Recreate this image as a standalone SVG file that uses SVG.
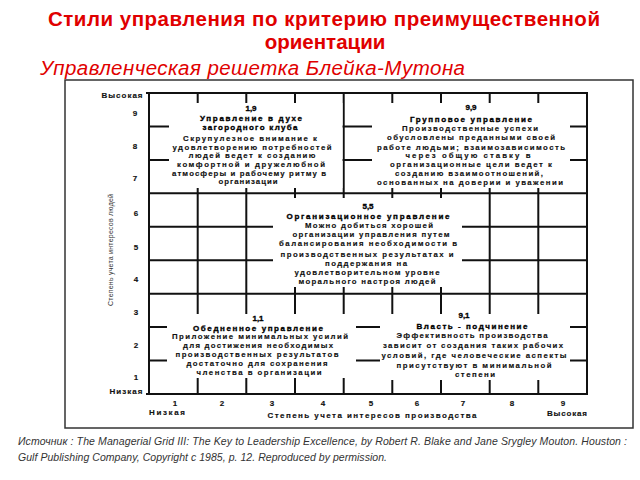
<svg xmlns="http://www.w3.org/2000/svg" width="640" height="480" viewBox="0 0 640 480">
<style>
.title{font-family:"Liberation Sans",Arial,sans-serif;font-weight:bold;font-size:20.5px;fill:#e00000}
.sub{font-family:"Liberation Sans",Arial,sans-serif;font-style:italic;font-size:20.5px;fill:#e00000}
.foot{font-family:"Liberation Sans",Arial,sans-serif;font-style:italic;font-size:10.5px;fill:#333}
.t{font-family:"Liberation Sans",Arial,sans-serif;font-weight:bold;font-size:7.8px;fill:#111;text-anchor:middle;stroke:#111;stroke-width:0.15}
.h{font-family:"Liberation Sans",Arial,sans-serif;font-weight:bold;font-size:8px;fill:#000;text-anchor:middle;stroke:#000;stroke-width:0.35}
.ax{font-family:"Liberation Sans",Arial,sans-serif;font-weight:bold;font-size:8px;fill:#111;text-anchor:middle;stroke:#111;stroke-width:0.15}
.yl{font-family:"Liberation Sans",Arial,sans-serif;font-size:7px;fill:#333;text-anchor:middle}
.g{stroke:#111;stroke-width:2;fill:none}
.w{fill:#fff;stroke:none}
</style>
<rect width="640" height="480" fill="#fff"/>
<text class="title" x="324" y="26" text-anchor="middle" textLength="552">Стили управления по критерию преимущественной</text>
<text class="title" x="325" y="49" text-anchor="middle">ориентации</text>
<text class="sub" x="40" y="75" textLength="425">Управленческая решетка Блейка-Мутона</text>

<rect x="65" y="80" width="568" height="348" fill="none" stroke="#333" stroke-width="1.5"/>

<g id="grid" class="g">
<line x1="146" y1="93" x2="588" y2="93"/>
<line x1="149" y1="126.4" x2="587" y2="126.4"/>
<line x1="149" y1="159.9" x2="587" y2="159.9"/>
<line x1="149" y1="193.3" x2="587" y2="193.3"/>
<line x1="149" y1="226.8" x2="587" y2="226.8"/>
<line x1="149" y1="260.2" x2="587" y2="260.2"/>
<line x1="149" y1="293.7" x2="587" y2="293.7"/>
<line x1="149" y1="327.1" x2="587" y2="327.1"/>
<line x1="149" y1="360.6" x2="587" y2="360.6"/>
<line x1="146" y1="394" x2="588" y2="394"/>
<line x1="149" y1="93" x2="149" y2="394"/>
<line x1="197.7" y1="93" x2="197.7" y2="394"/>
<line x1="246.3" y1="93" x2="246.3" y2="394"/>
<line x1="295" y1="93" x2="295" y2="394"/>
<line x1="343.7" y1="93" x2="343.7" y2="394"/>
<line x1="392.3" y1="93" x2="392.3" y2="394"/>
<line x1="441" y1="93" x2="441" y2="394"/>
<line x1="489.7" y1="93" x2="489.7" y2="394"/>
<line x1="538.3" y1="93" x2="538.3" y2="394"/>
<line x1="587" y1="93" x2="587" y2="394"/>
</g>

<g id="box-1-9">
<rect class="w" x="169" y="103" width="173.5" height="85"/>
<text class="h" x="251" y="111">1,9</text>
<text class="h" x="251" y="121" textLength="102">Управление в духе</text>
<text class="h" x="250" y="130" textLength="95">загородного клуба</text>
<text class="t" x="250" y="140.5" textLength="134">Скрупулезное внимание к</text>
<text class="t" x="252" y="149.5" textLength="159">удовлетворению потребностей</text>
<text class="t" x="252" y="158" textLength="127">людей ведет к созданию</text>
<text class="t" x="251" y="166.5" textLength="148">комфортной и дружелюбной</text>
<text class="t" x="249" y="175.5" textLength="154">атмосферы и рабочему ритму в</text>
<text class="t" x="248" y="184" textLength="59">организации</text>
</g>

<g id="box-9-9">
<rect class="w" x="372" y="103" width="198" height="85"/>
<text class="h" x="471" y="110">9,9</text>
<text class="h" x="471" y="121.5" textLength="122">Групповое управление</text>
<text class="t" x="470" y="131" textLength="136">Производственные успехи</text>
<text class="t" x="471" y="140" textLength="168">обусловлены преданными своей</text>
<text class="t" x="471" y="149.5" textLength="188">работе людьми; взаимозависимость</text>
<text class="t" x="468" y="158" textLength="125">через общую ставку в</text>
<text class="t" x="471" y="167" textLength="162">организационные цели ведет к</text>
<text class="t" x="469" y="176" textLength="148">созданию взаимоотношений,</text>
<text class="t" x="470" y="185" textLength="186">основанных на доверии и уважении</text>
</g>

<g id="box-5-5">
<rect class="w" x="273" y="198" width="189" height="89"/>
<text class="h" x="368" y="209">5,5</text>
<text class="h" x="368" y="219" textLength="163">Организационное управление</text>
<text class="t" x="369" y="228" textLength="128">Можно добиться хорошей</text>
<text class="t" x="371" y="237" textLength="157">организации управления путем</text>
<text class="t" x="368" y="246" textLength="178">балансирования необходимости в</text>
<text class="t" x="367" y="256.5" textLength="173">производственных результатах и</text>
<text class="t" x="366" y="266" textLength="82">поддержания на</text>
<text class="t" x="367" y="275" textLength="145">удовлетворительном уровне</text>
<text class="t" x="367" y="284" textLength="137">морального настроя людей</text>
</g>

<g id="box-1-1">
<rect class="w" x="167" y="314" width="189" height="64"/>
<text class="h" x="258" y="321">1,1</text>
<text class="h" x="258" y="331" textLength="130">Обедненное управление</text>
<text class="t" x="260" y="339" textLength="176">Приложение минимальных усилий</text>
<text class="t" x="258" y="348" textLength="150">для достижения необходимых</text>
<text class="t" x="257" y="357" textLength="163">производственных результатов</text>
<text class="t" x="257" y="366" textLength="141">достаточно для сохранения</text>
<text class="t" x="259" y="375" textLength="125">членства в организации</text>
</g>

<g id="box-9-1">
<rect class="w" x="380" y="314" width="190" height="66"/>
<text class="h" x="464" y="318">9,1</text>
<text class="h" x="472" y="329" textLength="111">Власть - подчинение</text>
<text class="t" x="472" y="338" textLength="151">Эффективность производства</text>
<text class="t" x="473" y="348" textLength="180">зависит от создания таких рабочих</text>
<text class="t" x="474" y="358" textLength="185">условий, где человеческие аспекты</text>
<text class="t" x="474" y="368" textLength="155">присутствуют в минимальной</text>
<text class="t" x="475" y="377" textLength="40">степени</text>
</g>

<g id="axes">
<text class="ax" x="122" y="98" textLength="41">Высокая</text>
<text class="ax" x="135" y="116">9</text>
<text class="ax" x="135" y="149">8</text>
<text class="ax" x="135" y="181">7</text>
<text class="ax" x="136" y="216">6</text>
<text class="ax" x="136" y="250">5</text>
<text class="ax" x="136" y="282">4</text>
<text class="ax" x="136" y="315">3</text>
<text class="ax" x="136" y="348">2</text>
<text class="ax" x="136" y="380">1</text>
<text class="ax" x="126" y="394" textLength="33">Низкая</text>
<text class="yl" transform="translate(113 250) rotate(-90)" textLength="112">Степень учета интересов людей</text>
<text class="ax" x="175" y="406">1</text>
<text class="ax" x="222" y="406">2</text>
<text class="ax" x="272" y="406">3</text>
<text class="ax" x="323" y="406">4</text>
<text class="ax" x="371" y="406">5</text>
<text class="ax" x="417" y="406">6</text>
<text class="ax" x="463" y="406">7</text>
<text class="ax" x="512" y="406">8</text>
<text class="ax" x="563" y="406">9</text>
<text class="ax" x="167" y="415" textLength="36">Низкая</text>
<text class="ax" x="372" y="418" textLength="209">Степень учета интересов производства</text>
<text class="ax" x="567" y="416" textLength="40">Высокая</text>
</g>

<text class="foot" x="18" y="444.5" textLength="609">Источник : The Managerial Grid III: The Key to Leadership  Excellence, by Robert R. Blake and Jane Srygley Mouton. Houston :</text>
<text class="foot" x="18" y="460.5" textLength="369">Gulf Publishing Company, Copyright c 1985, p. 12. Reproduced by permission.</text>
</svg>
